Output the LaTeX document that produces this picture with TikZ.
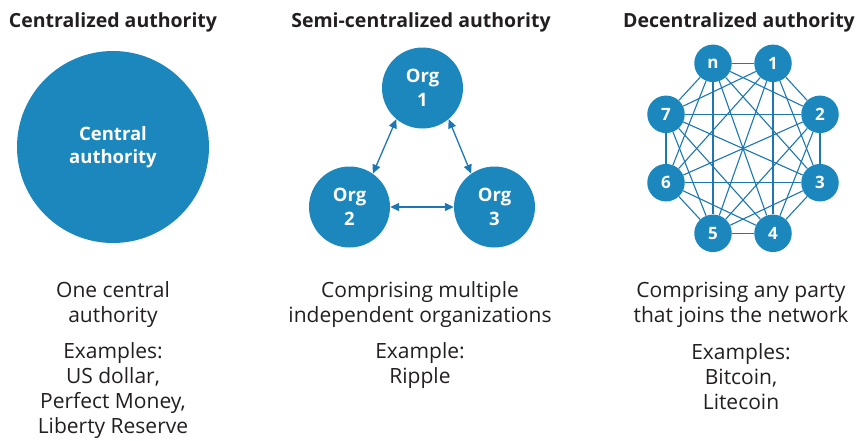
\documentclass[tikz,border=0pt]{standalone}
\usepackage{fontspec}
\setmainfont{Open Sans}
\usetikzlibrary{arrows.meta}
\definecolor{fillblue}{HTML}{1B87BD}
\definecolor{lineblue}{HTML}{1C77B3}
\definecolor{txtgray}{HTML}{231F20}
\tikzset{
  titletxt/.style={anchor=base, inner sep=0pt, text=txtgray, font=\bfseries\fontsize{19.5}{23}\selectfont},
  bodytxt/.style={anchor=base, inner sep=0pt, text=txtgray, font=\fontsize{21}{25}\selectfont},
  bigdisc/.style={circle, fill=fillblue, text=white, align=center, inner sep=0pt, font=\bfseries\fontsize{18.5}{23}\selectfont},
  orgdisc/.style={circle, fill=fillblue, text=white, align=center, inner sep=0pt, minimum size=81pt, font=\bfseries\fontsize{18.5}{24}\selectfont},
  peer/.style={circle, fill=fillblue, text=white, inner sep=0pt, minimum size=37.5pt, font=\bfseries\fontsize{17}{20}\selectfont},
  edge/.style={draw=lineblue, line width=1.1pt},
  dblarrow/.style={draw=lineblue, line width=1.3pt, {Triangle[length=9pt,width=8pt]}-{Triangle[length=9pt,width=8pt]}}
}
\begin{document}
\begin{tikzpicture}[x=1pt,y=-1pt]
\useasboundingbox (0,0) rectangle (864,440);
% titles
\node[titletxt] (t1) at (113,27) {Centralized authority};
\node[titletxt] (t2) at (421,27) {Semi-centralized authority};
\node[titletxt] (t3) at (739,27) {Decentralized authority};
% centralized
\node[bigdisc, minimum size=192pt] (ca) at (113,147) {Central\\authority};
% semi-centralized
\node[orgdisc] (o1) at (422.5,88) {Org\\1};
\node[orgdisc] (o2) at (349.5,207) {Org\\2};
\node[orgdisc] (o3) at (494.5,207) {Org\\3};
\draw[dblarrow] (o1.230) -- (o2.55);
\draw[dblarrow] (o1.310) -- (o3.125);
\draw[dblarrow] (o2) -- (o3);
% decentralized
\node[peer] (m0) at (713,63.3) {n};
\node[peer] (m1) at (773,63.3) {1};
\node[peer] (m2) at (820,114.3) {2};
\node[peer] (m3) at (820,182.7) {3};
\node[peer] (m4) at (773,233.3) {4};
\node[peer] (m5) at (713,233.3) {5};
\node[peer] (m6) at (666,182.7) {6};
\node[peer] (m7) at (666,114.3) {7};
\foreach \i in {0,...,6}{
  \pgfmathtruncatemacro\jstart{\i+1}
  \foreach \j in {\jstart,...,7}{
    \draw[edge] (m\i) -- (m\j);
  }
}
% left texts
\node[bodytxt] (a1) at (113,297) {One central};
\node[bodytxt] (a2) at (113,322) {authority};
\node[bodytxt] (a3) at (113,358) {Examples:};
\node[bodytxt] (a4) at (113,383) {US dollar,};
\node[bodytxt] (a5) at (113,408) {Perfect Money,};
\node[bodytxt] (a6) at (113,433) {Liberty Reserve};
% middle texts
\node[bodytxt] (b1) at (420,297) {Comprising multiple};
\node[bodytxt] (b2) at (420,322) {independent organizations};
\node[bodytxt] (b3) at (420,358) {Example:};
\node[bodytxt] (b4) at (420,383) {Ripple};
% right texts
\node[bodytxt] (c1) at (741,297) {Comprising any party};
\node[bodytxt] (c2) at (741,322) {that joins the network};
\node[bodytxt] (c3) at (741,359) {Examples:};
\node[bodytxt] (c4) at (741,384) {Bitcoin,};
\node[bodytxt] (c5) at (741,409) {Litecoin};
\end{tikzpicture}
\end{document}
